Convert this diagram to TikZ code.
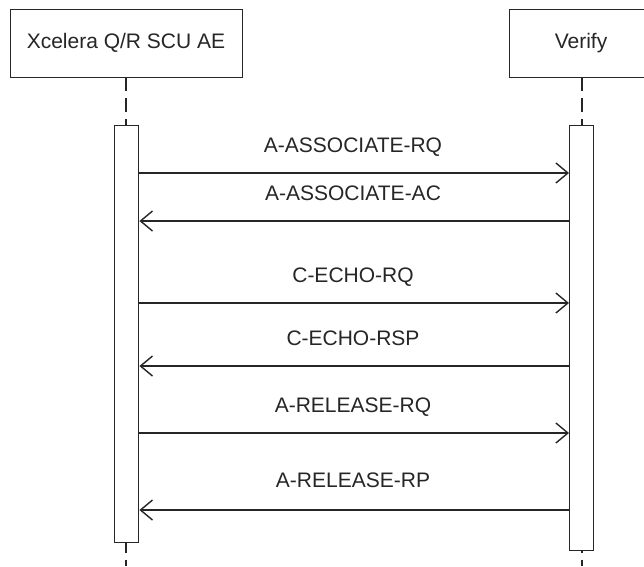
\documentclass[tikz,border=0pt]{standalone}
\usepackage{fontspec}
\setmainfont{Liberation Sans}
\usetikzlibrary{arrows.meta}
\begin{document}
\begin{tikzpicture}[x=1pt,y=-1pt,
  lbl/.style={font=\fontsize{21}{24}\selectfont, text=black!85, inner sep=0pt, anchor=base},
  headbox/.style={draw=black!85, line width=1.4pt, fill=white},
  actbox/.style={draw=black!85, line width=1.4pt, fill=white},
  life/.style={draw=black!85, line width=1.4pt, dash pattern=on 14pt off 7pt},
  msg/.style={draw=black!85, line width=1.4pt, -{Straight Barb[length=12pt,width=20pt,line width=1.4pt]}}]
\useasboundingbox (0,0) rectangle (644,566);
\begin{scope}
\clip (0,0) rectangle (644,566);
% lifelines
\coordinate (lt) at (126,77);
\coordinate (lb) at (126,566);
\coordinate (rt) at (582,77);
\coordinate (rb) at (582,566);
\draw[life] (lt) -- (lb);
\draw[life] (rt) -- (rb);
% header boxes
\node[headbox, minimum width=232pt, minimum height=68pt, anchor=north west] (hl) at (10,9) {};
\node[headbox, minimum width=146pt, minimum height=68pt, anchor=north west] (hr) at (509,9) {};
\node[lbl] (tl) at (126,48) {Xcelera Q/R SCU AE};
\node[lbl] (tr) at (581,48) {Verify};
% activation boxes
\node[actbox, minimum width=24pt, minimum height=417pt, anchor=north west, inner sep=0pt] (al) at (114,125) {};
\node[actbox, minimum width=24pt, minimum height=425pt, anchor=north west, inner sep=0pt] (ar) at (569,125) {};
\end{scope}
% messages
\foreach \y/\txt/\dir/\ly in {173/A-ASSOCIATE-RQ/1/152, 221/A-ASSOCIATE-AC/0/200, 303/C-ECHO-RQ/1/282, 366/C-ECHO-RSP/0/345, 433/A-RELEASE-RQ/1/412, 510/A-RELEASE-RP/0/487}{
  \coordinate (L\y) at (al.east |- 0,\y);
  \coordinate (R\y) at (ar.west |- 0,\y);
  \ifnum\dir=1
    \draw[msg] (L\y) -- (R\y);
  \else
    \draw[msg] (R\y) -- (L\y);
  \fi
  \node[lbl] (m\y) at (353,\ly) {\txt};
}
\end{tikzpicture}
\end{document}
